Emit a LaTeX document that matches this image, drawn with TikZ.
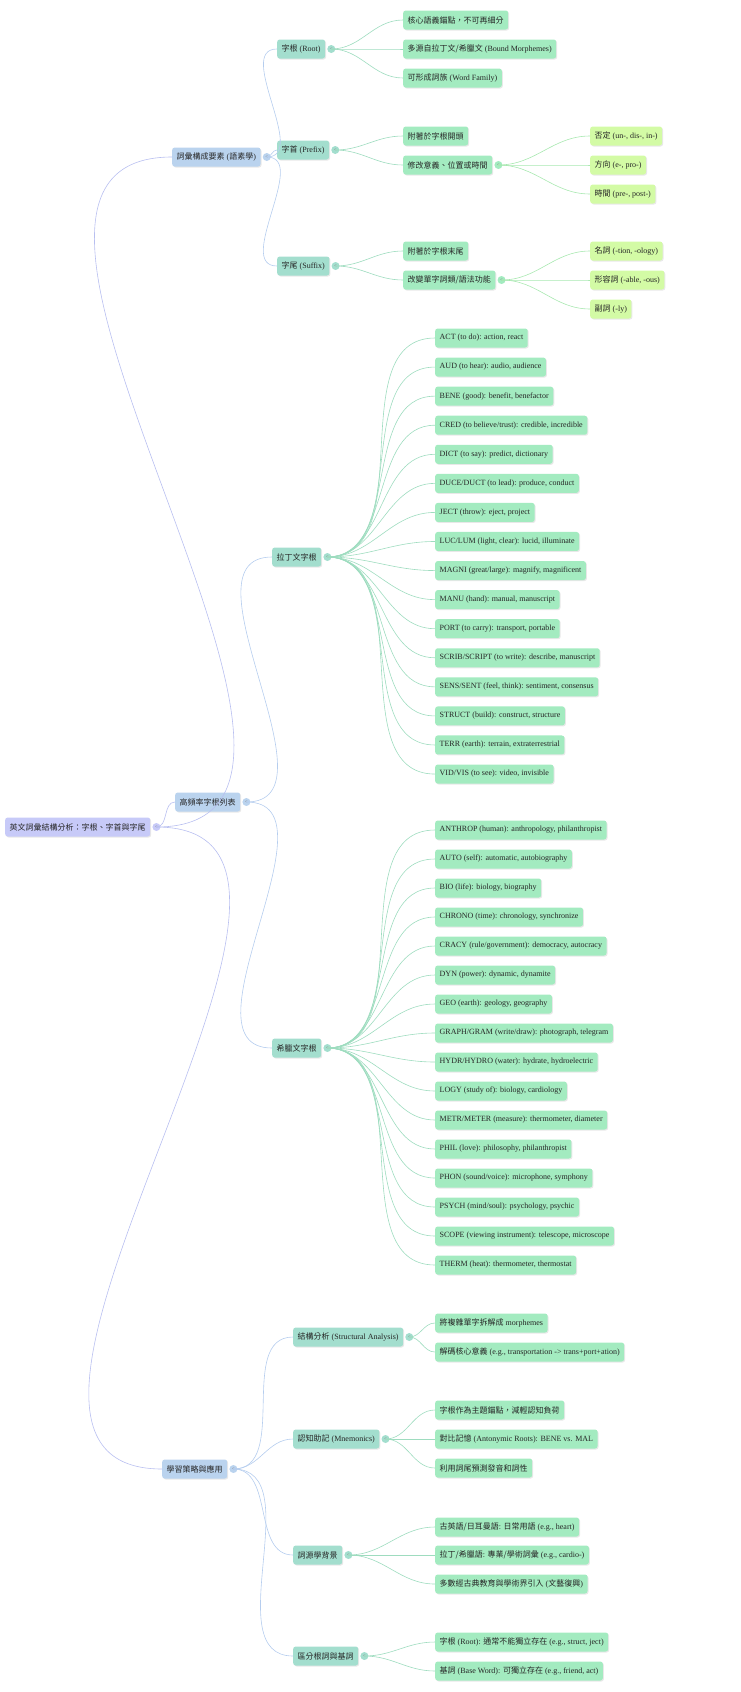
\documentclass[tikz,border=0pt]{standalone}
\usepackage{fontspec}
\setmainfont{Liberation Serif}
\newfontfamily\cjk{Noto Sans CJK TC}
\newcommand\cj[1]{{\cjk #1}}
\usetikzlibrary{calc,shadows}
\definecolor{c0}{HTML}{C7CAF8}
\definecolor{c1}{HTML}{BAD3EE}
\definecolor{c2}{HTML}{A3DECE}
\definecolor{c3}{HTML}{A3EBC0}
\definecolor{c4}{HTML}{D3FBA5}
\definecolor{l0}{HTML}{B8BFF0}
\definecolor{l1}{HTML}{B5CDEE}
\definecolor{l2}{HTML}{9EDCBF}
\definecolor{l3}{HTML}{A8E8B0}
\tikzset{
 box/.style={anchor=west,rounded corners=2.5pt,inner xsep=4.5pt,minimum height=19pt,
   font=\fontsize{8}{9.5}\selectfont,text=black!85,
   drop shadow={opacity=0.18,shadow xshift=1pt,shadow yshift=-1pt}},
 n0/.style={box,fill=c0}, n1/.style={box,fill=c1}, n2/.style={box,fill=c2},
 n3/.style={box,fill=c3}, n4/.style={box,fill=c4},
 tg/.style={circle,inner sep=0pt,minimum size=8pt,font=\fontsize{5}{5}\selectfont,text=black!50},
 con/.style={line width=0.6pt}
}
\newcommand\tog[2]{\node[tg,fill=#2] (#1c) at ($(#1.east)+(6,0)$) {<};}
\newcommand\lk[3]{\draw[con,#3] (#1c.center) to[out=0,in=180] (#2.west);}
\begin{document}
\begin{tikzpicture}[x=1pt,y=-1pt]
\useasboundingbox (0,0) rectangle (740,1692);
% root
\node[n0] (R) at (5,827) {\cj{英文詞彙結構分析：字根、字首與字尾}};
\node[n1] (A) at (172,157) {\cj{詞彙構成要素} (\cj{語素學})};
\node[n1] (B) at (175,802) {\cj{高頻率字根列表}};
\node[n1] (C) at (162,1469) {\cj{學習策略與應用}};
% level 2
\node[n2] (A1) at (277,49) {\cj{字根} (Root)};
\node[n2] (A2) at (277,150) {\cj{字首} (Prefix)};
\node[n2] (A3) at (277,266) {\cj{字尾} (Suffix)};
\node[n2] (B1) at (272,557) {\cj{拉丁文字根}};
\node[n2] (B2) at (272,1048) {\cj{希臘文字根}};
\node[n2] (C1) at (293,1337) {\cj{結構分析} (Structural Analysis)};
\node[n2] (C2) at (293,1439) {\cj{認知助記} (Mnemonics)};
\node[n2] (C3) at (293,1555) {\cj{詞源學背景}};
\node[n2] (C4) at (293,1656) {\cj{區分根詞與基詞}};
% level 3 upper
\node[n3] (A11) at (403,20) {\cj{核心語義錨點，不可再細分}};
\node[n3] (A12) at (403,49) {\cj{多源自拉丁文/希臘文} (Bound Morphemes)};
\node[n3] (A13) at (403,78) {\cj{可形成詞族} (Word Family)};
\node[n3] (A21) at (403,136) {\cj{附著於字根開頭}};
\node[n3] (A22) at (403,165) {\cj{修改意義、位置或時間}};
\node[n3] (A31) at (403,251) {\cj{附著於字根末尾}};
\node[n3] (A32) at (403,280) {\cj{改變單字詞類/語法功能}};
% level 4
\node[n4] (P1) at (590,136) {\cj{否定} (un-, dis-, in-)};
\node[n4] (P2) at (590,165) {\cj{方向} (e-, pro-)};
\node[n4] (P3) at (590,194) {\cj{時間} (pre-, post-)};
\node[n4] (S1) at (590,251) {\cj{名詞} (-tion, -ology)};
\node[n4] (S2) at (590,280) {\cj{形容詞} (-able, -ous)};
\node[n4] (S3) at (590,309) {\cj{副詞} (-ly)};
% strategy children
\node[n3] (C11) at (435,1323) {\cj{將複雜單字拆解成} morphemes};
\node[n3] (C12) at (435,1352) {\cj{解碼核心意義} (e.g., transportation -> trans+port+ation)};
\node[n3] (C21) at (435,1410) {\cj{字根作為主題錨點，減輕認知負荷}};
\node[n3] (C22) at (435,1439) {\cj{對比記憶} (Antonymic Roots): BENE vs. MAL};
\node[n3] (C23) at (435,1468) {\cj{利用詞尾預測發音和詞性}};
\node[n3] (C31) at (435,1527) {\cj{古英語/日耳曼語}: \cj{日常用語} (e.g., heart)};
\node[n3] (C32) at (435,1555) {\cj{拉丁/希臘語}: \cj{專業/學術詞彙} (e.g., cardio-)};
\node[n3] (C33) at (435,1584) {\cj{多數經古典教育與學術界引入} (\cj{文藝復興})};
\node[n3] (C41) at (435,1642) {\cj{字根} (Root): \cj{通常不能獨立存在} (e.g., struct, ject)};
\node[n3] (C42) at (435,1671) {\cj{基詞} (Base Word): \cj{可獨立存在} (e.g., friend, act)};
% toggles
\tog{R}{c0}
\foreach \n in {A,B,C} {\tog{\n}{c1}}
\foreach \n in {A1,A2,A3,B1,B2,C1,C2,C3,C4} {\tog{\n}{c2}}
\tog{A22}{c3}\tog{A32}{c3}
% latin / greek lists
\foreach \t [count=\i] in {{ACT (to do): action, react},{AUD (to hear): audio, audience},{BENE (good): benefit, benefactor},{CRED (to believe/trust): credible, incredible},{DICT (to say): predict, dictionary},{DUCE/DUCT (to lead): produce, conduct},{JECT (throw): eject, project},{LUC/LUM (light, clear): lucid, illuminate},{MAGNI (great/large): magnify, magnificent},{MANU (hand): manual, manuscript},{PORT (to carry): transport, portable},{SCRIB/SCRIPT (to write): describe, manuscript},{SENS/SENT (feel, think): sentiment, consensus},{STRUCT (build): construct, structure},{TERR (earth): terrain, extraterrestrial},{VID/VIS (to see): video, invisible}}
{\node[n3] (L\i) at (435,{338+29.07*(\i-1)}) {\t}; \lk{B1}{L\i}{l2}}
\foreach \t [count=\i] in {{ANTHROP (human): anthropology, philanthropist},{AUTO (self): automatic, autobiography},{BIO (life): biology, biography},{CHRONO (time): chronology, synchronize},{CRACY (rule/government): democracy, autocracy},{DYN (power): dynamic, dynamite},{GEO (earth): geology, geography},{GRAPH/GRAM (write/draw): photograph, telegram},{HYDR/HYDRO (water): hydrate, hydroelectric},{LOGY (study of): biology, cardiology},{METR/METER (measure): thermometer, diameter},{PHIL (love): philosophy, philanthropist},{PHON (sound/voice): microphone, symphony},{PSYCH (mind/soul): psychology, psychic},{SCOPE (viewing instrument): telescope, microscope},{THERM (heat): thermometer, thermostat}}
{\node[n3] (G\i) at (435,{830+29*(\i-1)}) {\t}; \lk{B2}{G\i}{l2}}
% connectors
\foreach \n in {A,B,C} {\lk{R}{\n}{l0}}
\foreach \n in {1,2,3} {\lk{A}{A\n}{l1}\lk{A1}{A1\n}{l2}\lk{A22}{P\n}{l3}\lk{A32}{S\n}{l3}}
\lk{B}{B1}{l1}\lk{B}{B2}{l1}
\foreach \n in {1,2,3,4} {\lk{C}{C\n}{l1}}
\foreach \n in {1,2} {\lk{A2}{A2\n}{l2}\lk{A3}{A3\n}{l2}\lk{C1}{C1\n}{l2}\lk{C4}{C4\n}{l2}}
\foreach \n in {1,2,3} {\lk{C2}{C2\n}{l2}\lk{C3}{C3\n}{l2}}
\end{tikzpicture}
\end{document}
